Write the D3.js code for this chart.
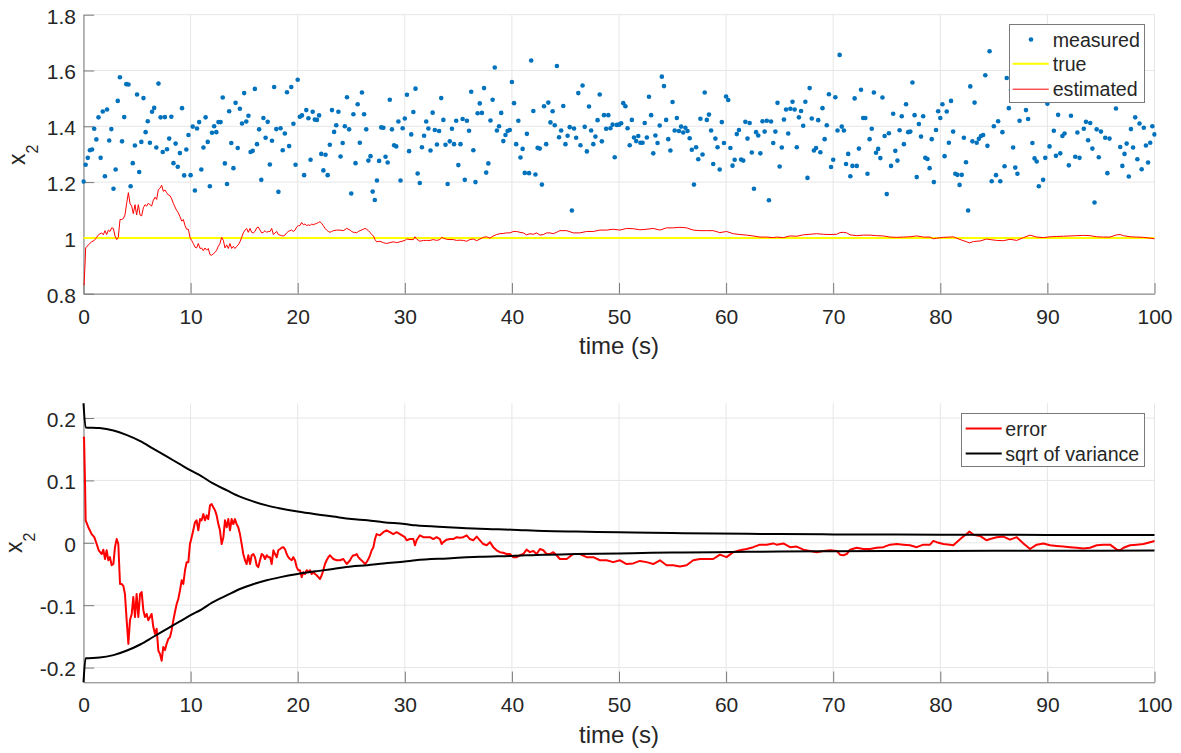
<!DOCTYPE html>
<html><head><meta charset="utf-8">
<script src="https://cdn.jsdelivr.net/npm/d3@7"></script>
<style>
body{margin:0;background:#fff}
svg{display:block}
text{font-family:"Liberation Sans",Arial,Helvetica,sans-serif;fill:#262626}
</style>
</head><body><svg id="c" width="1181" height="753"></svg>
<script>
// ---------------- data ----------------
const measuredStep = 0.2; // sampling interval (s) of the measurements, starting at t = 0
const measured = [
1.202,1.262,1.287,1.314,1.317,1.391,1.353,1.432,1.287,1.453,
1.221,1.460,1.349,1.390,1.176,1.245,1.491,1.576,1.346,1.433,
1.551,1.550,1.185,1.268,1.331,1.514,1.236,1.344,1.501,1.379,
1.418,1.341,1.452,1.466,1.324,1.553,1.432,1.308,1.433,1.318,
1.356,1.434,1.268,1.338,1.255,1.304,1.465,1.224,1.317,1.369,
1.225,1.399,1.170,1.392,1.415,1.245,1.324,1.432,1.344,1.185,
1.377,1.400,1.379,1.415,1.415,1.503,1.267,1.193,1.454,1.340,
1.250,1.484,1.322,1.463,1.410,1.519,1.417,1.438,1.308,1.312,
1.534,1.336,1.389,1.208,1.430,1.359,
1.416,1.263,1.348,1.541,1.390,1.165,1.393,1.314,1.374,1.522,
1.329,1.541,1.409,1.262,1.567,1.434,1.439,1.225,1.458,1.429,
1.280,1.452,1.424,1.423,1.439,1.301,1.242,1.298,1.225,1.334,
1.458,1.380,1.404,1.452,1.292,1.340,1.400,1.504,1.389,1.159,
1.443,1.268,1.479,1.341,1.521,1.443,1.389,1.277,1.293,1.166,
1.136,1.206,1.276,1.396,1.395,1.291,1.270,1.495,1.389,1.332,
1.328,1.417,1.206,1.393,1.428,1.513,1.311,1.371,1.451,1.535,
1.231,1.197,1.325,1.366,1.417,1.392,1.313,1.449,1.387,1.335,
1.383,1.501,1.423,1.334,
1.193,1.346,1.391,1.336,1.420,1.261,1.336,1.426,1.208,1.420,
1.384,1.524,1.314,1.200,1.447,1.482,1.448,1.537,1.234,1.267,
1.421,1.495,1.611,1.385,1.400,1.448,1.347,1.369,1.383,1.387,
1.559,1.483,1.336,1.420,1.288,1.319,1.233,1.373,1.232,1.636,
1.455,1.227,1.323,1.320,1.191,1.472,1.336,1.485,1.414,1.454,
1.404,1.616,1.361,1.385,1.473,1.336,1.366,1.397,1.098,1.392,
1.359,1.519,1.332,1.546,1.398,1.310,1.471,1.385,1.336,1.363,
1.422,1.514,1.346,1.440,1.391,1.440,1.393,1.406,1.289,1.405,
1.406,1.411,1.483,1.472,
1.393,1.332,1.423,1.360,1.347,1.365,1.341,1.341,1.412,1.360,
1.506,1.440,1.303,1.367,1.340,1.403,1.578,1.544,1.423,1.354,
1.313,1.487,1.385,1.430,1.383,1.399,1.378,1.395,1.383,1.357,
1.316,1.191,1.325,1.282,1.427,1.299,1.521,1.423,1.442,1.385,
1.265,1.356,1.325,1.245,1.415,1.340,1.507,1.494,1.322,1.259,
1.280,1.372,1.387,1.281,1.277,1.416,1.356,1.412,1.306,1.176,
1.379,1.367,1.303,1.418,1.381,1.420,1.135,1.417,1.340,1.381,
1.484,1.256,1.324,1.424,1.460,1.374,1.463,1.488,1.460,1.325,
1.432,1.455,1.402,1.488,
1.215,1.537,1.428,1.313,1.322,1.422,1.307,1.465,1.354,1.404,
1.515,1.254,1.280,1.504,1.385,1.656,1.399,1.385,1.265,1.301,
1.221,1.258,1.500,1.258,1.320,1.531,1.430,1.430,1.230,1.354,
1.391,1.521,1.305,1.319,1.286,1.503,1.365,1.157,1.375,1.258,
1.445,1.312,1.277,1.386,1.436,1.336,1.479,1.379,1.381,1.557,
1.440,1.218,1.408,1.363,1.436,1.287,1.283,1.250,1.354,1.200,
1.387,1.454,1.430,1.479,1.293,1.453,1.341,1.491,1.381,1.230,
1.226,1.190,1.226,1.359,1.271,1.098,1.543,1.346,1.485,1.341,
1.355,1.365,1.369,1.583,
1.330,1.669,1.203,1.400,1.225,1.418,1.203,1.379,1.257,1.573,
1.465,1.530,1.324,1.252,1.230,1.420,1.510,1.550,1.458,1.426,
1.500,1.340,1.285,1.274,1.185,1.520,1.208,1.287,1.481,1.328,
1.540,1.384,1.294,1.441,1.303,1.365,1.374,1.520,1.260,1.438,
1.570,1.291,1.378,1.287,1.510,1.391,1.416,1.350,1.412,1.320,
1.127,1.389,1.289,1.381,1.530,1.359,1.232,1.356,1.500,1.550,
1.464,1.520,1.326,1.258,1.301,1.338,1.220,1.390,1.324,1.432,
1.282,1.410,1.246,1.395,1.331,1.270,1.341,1.400,1.371
];

const trueTime = [0, 100];
const trueValue = [1, 1];

const estTime = [0,0.05,0.15,0.2,0.45,0.76,1.01,1.23,1.42,1.70,
1.85,2.01,2.16,2.32,2.47,2.63,2.79,2.94,3.10,3.25,
3.41,3.56,3.72,3.87,4.03,4.19,4.34,4.50,4.65,4.81,
4.96,5.12,5.28,5.43,5.59,5.74,5.90,6.05,6.21,6.36,
6.52,6.68,6.83,6.99,7.14,7.30,7.45,7.61,7.76,7.92,
8.08,8.23,8.39,8.54,8.70,8.85,9.01,9.17,9.32,9.48,
9.63,9.79,9.94,10.10,10.25,10.41,10.56,10.72,10.88,11.03,
11.19,11.34,11.50,11.65,11.81,11.97,12.12,12.28,12.43,12.59,
12.74,12.90,13.06,13.21,13.37,13.52,13.68,13.83,13.99,14.14,
14.30,14.45,14.61,14.77,14.92,15.08,15.23,15.39,15.55,15.70,
15.86,16.01,16.17,16.32,16.48,16.64,16.79,16.95,17.10,17.26,
17.42,17.57,17.73,17.88,18.04,18.19,18.35,18.50,18.66,18.81,
18.97,19.12,19.28,19.44,19.59,19.75,19.90,20.06,20.21,20.37,
20.53,20.68,20.84,20.99,21.15,21.30,21.46,21.62,21.77,21.93,
22.08,22.24,22.39,22.55,22.70,22.86,23.02,23.17,23.33,23.64,
23.95,24.26,24.58,24.89,25.04,25.20,25.35,25.51,25.66,25.82,
26.13,26.29,26.44,26.60,26.75,26.91,27.07,27.22,27.37,27.68,
27.99,28.30,28.61,28.92,29.24,29.55,30.01,30.17,30.48,30.80,
30.95,31.10,31.41,31.73,32.04,32.35,32.66,32.97,33.28,33.44,
33.59,33.91,34.22,34.53,34.84,35.15,35.46,35.77,36.08,36.39,
36.71,37.02,37.33,37.64,37.95,38.26,38.57,38.88,39.19,39.51,
39.82,40.13,40.44,40.75,41.06,41.37,41.68,42.00,42.31,42.62,
42.93,43.24,43.55,43.86,44.17,44.48,45.11,45.73,46.35,46.97,
47.60,48.22,48.84,49.46,50.09,50.71,51.33,51.95,52.58,53.20,
53.82,54.44,55.06,55.69,56.31,56.93,57.56,58.18,58.80,59.42,
60.04,60.67,61.29,61.91,62.53,63.16,63.78,64.40,64.72,65.35,
65.97,66.59,67.21,67.84,68.46,69.08,69.70,70.33,70.64,70.95,
71.26,71.57,72.19,72.82,73.44,74.06,74.68,75.31,75.93,76.55,
77.17,77.80,78.42,79.04,79.35,79.67,80.29,80.91,81.22,81.53,
82.00,82.47,82.72,83.09,83.71,84.33,84.65,85.27,85.89,86.51,
87.14,87.76,88.38,89.00,89.63,90.25,90.87,91.49,92.12,92.74,
93.36,93.98,94.61,95.23,95.85,96.48,96.79,97.10,97.72,98.34,
98.97,99.59,100];

const estimated = [0.830,0.832,0.910,0.964,0.975,0.986,0.991,1.002,1.012,1.018,
1.011,1.026,1.012,1.028,1.023,1.036,1.034,1.007,0.994,1.002,
1.066,1.066,1.069,1.082,1.124,1.162,1.124,1.114,1.087,1.119,
1.082,1.119,1.082,1.079,1.108,1.119,1.114,1.124,1.119,1.114,
1.135,1.146,1.138,1.173,1.178,1.189,1.167,1.172,1.162,1.154,
1.151,1.140,1.124,1.111,1.098,1.090,1.076,1.060,1.066,1.044,
1.031,1.031,1.002,0.991,0.980,0.967,0.964,0.980,0.962,0.964,
0.954,0.964,0.956,0.962,0.940,0.938,0.943,0.948,0.956,0.970,
0.980,1.002,0.991,0.964,0.975,0.962,0.980,0.962,0.970,0.962,
0.970,0.975,0.986,1.002,1.018,1.028,1.034,1.020,1.034,1.020,
1.018,1.023,1.036,1.039,1.028,1.018,1.020,1.026,1.020,1.023,
1.023,1.034,1.012,1.018,1.023,1.012,1.010,1.008,1.007,1.010,
1.018,1.023,1.026,1.028,1.023,1.028,1.039,1.044,1.044,1.055,
1.047,1.050,1.044,1.047,1.044,1.050,1.047,1.050,1.052,1.055,
1.058,1.052,1.044,1.034,1.028,1.023,1.020,1.023,1.026,1.028,
1.028,1.026,1.034,1.028,1.023,1.020,1.020,1.018,1.023,1.026,
1.031,1.034,1.031,1.026,1.020,1.012,1.007,0.994,0.986,0.988,
0.983,0.980,0.983,0.986,0.983,0.986,0.991,0.996,0.994,0.994,
1.004,0.996,0.988,0.991,0.991,0.991,0.994,0.991,0.994,1.002,
0.999,0.995,0.994,0.994,0.991,0.992,0.991,0.988,0.994,0.996,
0.990,0.996,1.002,1.004,0.999,1.007,1.012,1.015,1.016,1.018,
1.018,1.023,1.023,1.020,1.018,1.011,1.015,1.013,1.018,1.010,
1.012,1.018,1.018,1.015,1.020,1.026,1.026,1.018,1.018,1.023,
1.023,1.028,1.028,1.031,1.028,1.034,1.033,1.029,1.031,1.034,
1.028,1.036,1.036,1.038,1.036,1.028,1.026,1.026,1.026,1.019,
1.023,1.015,1.012,1.010,1.007,1.003,1.003,1.001,1.003,1.001,
1.007,1.006,1.011,1.013,1.015,1.013,1.012,1.013,1.019,1.020,
1.018,1.011,1.008,1.010,1.010,1.008,1.007,1.003,1.002,1.003,
1.004,1.007,1.003,1.003,0.997,0.999,1.002,1.003,1.004,0.999,
0.992,0.986,0.982,0.987,0.989,0.996,0.994,0.991,0.990,0.995,
0.991,1.001,1.010,1.003,1.001,1.004,1.005,1.006,1.007,1.008,
1.009,1.008,1.004,1.003,1.003,1.011,1.012,1.008,1.004,1.003,
1.002,0.999,0.997];

const errTime = estTime;
const errValue = [0.170,0.168,0.090,0.036,0.025,0.014,0.009,-0.002,-0.012,-0.018,
-0.011,-0.026,-0.012,-0.028,-0.023,-0.036,-0.034,-0.007,0.006,-0.002,
-0.066,-0.066,-0.069,-0.082,-0.124,-0.162,-0.124,-0.114,-0.087,-0.119,
-0.082,-0.119,-0.082,-0.079,-0.108,-0.119,-0.114,-0.124,-0.119,-0.114,
-0.135,-0.146,-0.138,-0.173,-0.178,-0.189,-0.167,-0.172,-0.162,-0.154,
-0.151,-0.140,-0.124,-0.111,-0.098,-0.090,-0.076,-0.060,-0.066,-0.044,
-0.031,-0.031,-0.002,0.009,0.020,0.033,0.036,0.020,0.038,0.036,
0.046,0.036,0.044,0.038,0.060,0.062,0.057,0.052,0.044,0.030,
0.020,-0.002,0.009,0.036,0.025,0.038,0.020,0.038,0.030,0.038,
0.030,0.025,0.014,-0.002,-0.018,-0.028,-0.034,-0.020,-0.034,-0.020,
-0.018,-0.023,-0.036,-0.039,-0.028,-0.018,-0.020,-0.026,-0.020,-0.023,
-0.023,-0.034,-0.012,-0.018,-0.023,-0.012,-0.010,-0.008,-0.007,-0.010,
-0.018,-0.023,-0.026,-0.028,-0.023,-0.028,-0.039,-0.044,-0.044,-0.055,
-0.047,-0.050,-0.044,-0.047,-0.044,-0.050,-0.047,-0.050,-0.052,-0.055,
-0.058,-0.052,-0.044,-0.034,-0.028,-0.023,-0.020,-0.023,-0.026,-0.028,
-0.028,-0.026,-0.034,-0.028,-0.023,-0.020,-0.020,-0.018,-0.023,-0.026,
-0.031,-0.034,-0.031,-0.026,-0.020,-0.012,-0.007,0.006,0.014,0.012,
0.017,0.020,0.017,0.014,0.017,0.014,0.009,0.004,0.006,0.006,
-0.004,0.004,0.012,0.009,0.009,0.009,0.006,0.009,0.006,-0.002,
0.001,0.005,0.006,0.006,0.009,0.008,0.009,0.012,0.006,0.004,
0.010,0.004,-0.002,-0.004,0.001,-0.007,-0.012,-0.015,-0.016,-0.018,
-0.018,-0.023,-0.023,-0.020,-0.018,-0.011,-0.015,-0.013,-0.018,-0.010,
-0.012,-0.018,-0.018,-0.015,-0.020,-0.026,-0.026,-0.018,-0.018,-0.023,
-0.023,-0.028,-0.028,-0.031,-0.028,-0.034,-0.033,-0.029,-0.031,-0.034,
-0.028,-0.036,-0.036,-0.038,-0.036,-0.028,-0.026,-0.026,-0.026,-0.019,
-0.023,-0.015,-0.012,-0.010,-0.007,-0.003,-0.003,-0.001,-0.003,-0.001,
-0.007,-0.006,-0.011,-0.013,-0.015,-0.013,-0.012,-0.013,-0.019,-0.020,
-0.018,-0.011,-0.008,-0.010,-0.010,-0.008,-0.007,-0.003,-0.002,-0.003,
-0.004,-0.007,-0.003,-0.003,0.003,0.001,-0.002,-0.003,-0.004,0.001,
0.008,0.014,0.018,0.013,0.011,0.004,0.006,0.009,0.010,0.005,
0.009,-0.001,-0.010,-0.003,-0.001,-0.004,-0.005,-0.006,-0.007,-0.008,
-0.009,-0.008,-0.004,-0.003,-0.003,-0.011,-0.012,-0.008,-0.004,-0.003,
-0.002,0.001,0.003];

const sigmaTime = [0,0.2,1.5,2.8,4,5.3,6.5,7.8,9,10,11,12,13.4,14.6,15.9,17.1,18.4,20,22,23.3,
25,26.5,28,30,31,34,37,40,43,46,50,53,56,59,62,65,70,75,80,85,90,95,100];
const sigmaValue = [0.2236,0.185,0.184,0.180,0.173,0.163,0.151,0.138,0.126,0.116,
0.107,0.096,0.084,0.074,0.066,0.060,0.055,0.050,0.045,0.042,
0.038,0.036,0.033,0.030,0.028,0.025,0.0225,0.021,0.019,0.018,
0.017,0.016,0.0155,0.015,0.0145,0.014,0.0135,0.0132,0.013,0.0128,
0.0127,0.0126,0.0125];

const xTicks = [0,10,20,30,40,50,60,70,80,90,100];
const topYTicks = [0.8,1,1.2,1.4,1.6,1.8];
const botYTicks = [-0.2,-0.1,0,0.1,0.2];
const topLegend = ["measured","true","estimated"];
const botLegend = ["error","sqrt of variance"];
const xLabel = "time (s)";

// ---------------- layout ----------------
const svg = d3.select("#c");
const L = 83.5, R = 1154.5;
const top1 = 14.7, bot1 = 293.7, top2 = 403.3, bot2 = 682.3;
const x = d3.scaleLinear().domain([0,100]).range([L,R]);
const yA = d3.scaleLinear().domain([0.8,1.8]).range([bot1,top1]);
const yB = d3.scaleLinear().domain([-0.2236,0.2236]).range([bot2,top2]);
const TICK = 10.7, AX = "#7a7a7a", GRID = "#e6e6e6";

function frame(y, yTicks, yT, yBt, id) {
  const g = svg.append("g");
  g.selectAll(".gx").data(xTicks).enter().append("line")
    .attr("x1", d=>x(d)).attr("x2", d=>x(d)).attr("y1", yT).attr("y2", yBt)
    .attr("stroke", GRID).attr("stroke-width", 1);
  g.selectAll(".gy").data(yTicks).enter().append("line")
    .attr("x1", L).attr("x2", R).attr("y1", d=>y(d)).attr("y2", d=>y(d))
    .attr("stroke", GRID).attr("stroke-width", 1);
  const xa = g.append("g").attr("transform", `translate(0,${yBt})`)
    .call(d3.axisBottom(x).tickValues(xTicks).tickSizeInner(-TICK).tickSizeOuter(0).tickPadding(15).tickFormat(d=>String(d)));
  const ya = g.append("g").attr("transform", `translate(${L},0)`)
    .call(d3.axisLeft(y).tickValues(yTicks).tickSizeInner(-TICK).tickSizeOuter(0).tickPadding(7.5).tickFormat(d=>String(d)));
  [xa, ya].forEach(a => {
    a.attr("font-size", null);
    a.select(".domain").attr("stroke", AX).attr("stroke-width", 1);
    a.selectAll(".tick line").attr("stroke", AX).attr("stroke-width", 1);
    a.selectAll("text").attr("fill", "#262626").style("font-size", "21px")
      .style("font-family", '"Liberation Sans",Arial,sans-serif');
  });
  ya.selectAll("text").attr("dy", "0.4em");
  svg.append("clipPath").attr("id", id).append("rect")
    .attr("x", L - 2).attr("y", yT - 2).attr("width", R - L + 4).attr("height", yBt - yT + 4);
  svg.append("text").attr("x", (L+R)/2).attr("y", yBt + 60.5).attr("text-anchor", "middle")
    .style("font-size", "24px").text(xLabel);
  return g;
}

function ylabel(xpos, ycenter) {
  const t = svg.append("text").attr("transform", `translate(${xpos},${ycenter}) rotate(-90)`)
    .attr("text-anchor", "middle").style("font-size", "23px");
  t.append("tspan").text("x");
  t.append("tspan").attr("dy", 12.5).style("font-size", "16px").text("2");
}

// ---------------- top panel ----------------
frame(yA, topYTicks, top1, bot1, "clipA");
ylabel(25, (top1+bot1)/2 + 0.5);
const gA = svg.append("g").attr("clip-path", "url(#clipA)");
gA.selectAll("circle").data(measured).enter().append("circle")
  .attr("cx", (d,i)=>x(i*measuredStep)).attr("cy", d=>yA(d)).attr("r", 2.3).attr("fill", "#0072bd");
gA.append("path").datum(trueTime.map((t,i)=>[t,trueValue[i]]))
  .attr("d", d3.line().x(d=>x(d[0])).y(d=>yA(d[1])))
  .attr("fill","none").attr("stroke","#ffff00").attr("stroke-width",2);
gA.append("path").datum(estTime.map((t,i)=>[t,estimated[i]]))
  .attr("d", d3.line().x(d=>x(d[0])).y(d=>yA(d[1])))
  .attr("fill","none").attr("stroke","#ff0000").attr("stroke-width",1);

// ---------------- bottom panel ----------------
frame(yB, botYTicks, top2, bot2, "clipB");
ylabel(22, (top2+bot2)/2);
const gB = svg.append("g").attr("clip-path", "url(#clipB)");
gB.append("path").datum(errTime.map((t,i)=>[t,errValue[i]]))
  .attr("d", d3.line().x(d=>x(d[0])).y(d=>yB(d[1])))
  .attr("fill","none").attr("stroke","#ff0000").attr("stroke-width",2).attr("stroke-linejoin","round");
const sig = sigmaTime.map((t,i)=>[t,sigmaValue[i]]);
[1,-1].forEach(s => {
  gB.append("path").datum(sig)
    .attr("d", d3.line().curve(d3.curveMonotoneX).x(d=>x(d[0])).y(d=>yB(s*d[1])))
    .attr("fill","none").attr("stroke","#000").attr("stroke-width",2);
});

// ---------------- legends ----------------
function legendBox(x0, y0, x1, y1) {
  svg.append("rect").attr("x", x0).attr("y", y0).attr("width", x1-x0).attr("height", y1-y0)
    .attr("fill", "#fff").attr("stroke", "#7a7a7a").attr("stroke-width", 1);
}
legendBox(1009.5, 24.5, 1144.5, 102.5);
const lgA = [
  {label: topLegend[0], y: 39.5, kind: "dot", color: "#0072bd"},
  {label: topLegend[1], y: 63.8, kind: "line", color: "#ffff00", w: 2},
  {label: topLegend[2], y: 89.2, kind: "line", color: "#ff0000", w: 1}
];
lgA.forEach(e => {
  if (e.kind === "dot") svg.append("circle").attr("cx", 1031).attr("cy", e.y).attr("r", 2.3).attr("fill", e.color);
  else svg.append("line").attr("x1", 1012.7).attr("x2", 1048.7).attr("y1", e.y).attr("y2", e.y)
    .attr("stroke", e.color).attr("stroke-width", e.w);
  svg.append("text").attr("x", 1052.7).attr("y", e.y).attr("dy", "0.36em").style("font-size", "19.6px").text(e.label);
});
legendBox(961.5, 413.5, 1144.5, 466.5);
const lgB = [
  {label: botLegend[0], y: 428.5, color: "#ff0000"},
  {label: botLegend[1], y: 453.5, color: "#000000"}
];
lgB.forEach(e => {
  svg.append("line").attr("x1", 965.7).attr("x2", 1001.7).attr("y1", e.y).attr("y2", e.y)
    .attr("stroke", e.color).attr("stroke-width", 2);
  svg.append("text").attr("x", 1005.3).attr("y", e.y).attr("dy", "0.36em").style("font-size", "19.6px").text(e.label);
});
</script>
</body></html>
